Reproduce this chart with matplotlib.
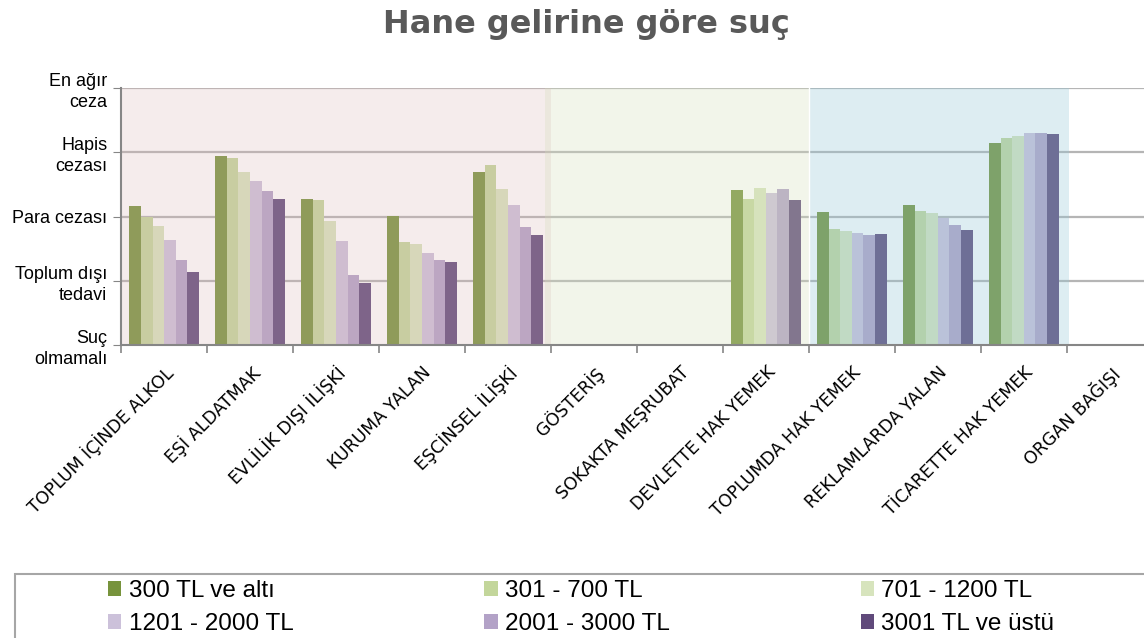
import matplotlib.pyplot as plt
import numpy as np
from matplotlib.patches import Rectangle

plt.rcParams["font.family"] = ["Liberation Sans", "DejaVu Sans"]

categories = [
    "TOPLUM İÇİNDE ALKOL", "EŞİ ALDATMAK", "EVLİLİK DIŞI İLİŞKİ", "KURUMA YALAN",
    "EŞCİNSEL İLİŞKİ", "GÖSTERİŞ", "SOKAKTA MEŞRUBAT", "DEVLETTE HAK YEMEK",
    "TOPLUMDA HAK YEMEK", "REKLAMLARDA YALAN", "TİCARETTE HAK YEMEK", "ORGAN BAĞIŞI",
]
series_names = ["300 TL ve altı", "301 - 700 TL", "701 - 1200 TL",
                "1201 - 2000 TL", "2001 - 3000 TL", "3001 TL ve üstü"]
series_colors = ["#77933C", "#C3D69B", "#D7E4BD", "#CCC1DA", "#B3A2C7", "#604A7B"]

nan = np.nan
inc_300 = [2.16, 2.95, 2.27, 2.01, 2.69, nan, nan, 2.42, 2.07, 2.18, 3.14, nan]
inc_700 = [1.99, 2.91, 2.25, 1.61, 2.80, nan, nan, 2.27, 1.81, 2.09, 3.23, nan]
inc_1200 = [1.86, 2.69, 1.93, 1.58, 2.43, nan, nan, 2.44, 1.77, 2.06, 3.25, nan]
inc_2000 = [1.64, 2.56, 1.62, 1.44, 2.18, nan, nan, 2.37, 1.74, 1.98, 3.30, nan]
inc_3000 = [1.32, 2.39, 1.09, 1.32, 1.84, nan, nan, 2.43, 1.71, 1.87, 3.30, nan]
inc_over = [1.13, 2.27, 0.96, 1.29, 1.72, nan, nan, 2.25, 1.73, 1.79, 3.28, nan]
series = [inc_300, inc_700, inc_1200, inc_2000, inc_3000, inc_over]

level_labels = ["Suç\nolmamalı", "Toplum dışı\ntedavi", "Para cezası",
                "Hapis\ncezası", "En ağır\nceza"]

# shaded groups: (start, end, colour, alpha)
groups = [(-0.5, 4.5, "#D9B4B4", 0.25),
          (4.43, 7.5, "#D4DEBC", 0.30),
          (7.5, 10.52, "#91C6D7", 0.30)]

fig = plt.figure(figsize=(11.44, 6.38), dpi=100)
ax = fig.add_axes([0.1058, 0.4592, 0.902, 0.4028])

x = np.arange(len(categories))
bw = 0.134
for i, (vals, col, name) in enumerate(zip(series, series_colors, series_names)):
    ax.bar(x + (i - 2.5) * bw, vals, width=bw, color=col, label=name, zorder=2)

for y in [1, 2, 3, 4]:
    ax.axhline(y, color="#B5B5B5", lw=1.6, zorder=1)

for x0, x1, c, a in groups:
    ax.axvspan(x0, x1, ymin=0, ymax=1, color=c, alpha=a, lw=0, zorder=3)
ax.axvline(7.5, color="white", lw=1, zorder=3.5)

ax.set_xlim(-0.5, 11.5)
ax.set_ylim(0, 4)

ax.set_yticks(range(5))
ax.set_yticklabels(level_labels, fontsize=13, ha="right", linespacing=1.3)
ax.tick_params(axis="y", length=6, color="#868686", pad=4)

ax.set_xticks(x)
ax.set_xticklabels(categories, rotation=45, ha="right", rotation_mode="anchor",
                   fontsize=12.5, family=["DejaVu Sans"])
ax.set_xticks(np.arange(-0.5, 11.6, 1), minor=True)
ax.tick_params(axis="x", which="major", length=0, pad=13)
ax.tick_params(axis="x", which="minor", length=6, color="#868686", width=1.2)

for s in ["top", "right"]:
    ax.spines[s].set_visible(False)
for s in ["left", "bottom"]:
    ax.spines[s].set_color("#868686")
    ax.spines[s].set_linewidth(1.5)
    ax.spines[s].set_zorder(5)

fig.text(0.513, 0.962, "Hane gelirine göre suç", ha="center", va="center",
         fontsize=23, fontweight="bold", color="#595959",
         family=["DejaVu Sans"])

# legend box
fig.patches.append(Rectangle((15 / 1144, -0.05), 1.1, (638 - 574) / 638 + 0.05,
                             transform=fig.transFigure, fill=False,
                             edgecolor="#A6A6A6", lw=1.5))
handles, labels = ax.get_legend_handles_labels()
order = [0, 3, 1, 4, 2, 5]
leg = fig.legend([handles[i] for i in order], [labels[i] for i in order],
                 ncol=3, loc="upper left", frameon=False, fontsize=17.5,
                 handlelength=0.55, handleheight=0.55, handletextpad=0.3,
                 columnspacing=7.85, labelspacing=0.46, borderaxespad=0,
                 borderpad=0)
leg.set_bbox_to_anchor((108 / 1144, 1 - 580 / 638), transform=fig.transFigure)

fig.savefig("out.png", dpi=100)
